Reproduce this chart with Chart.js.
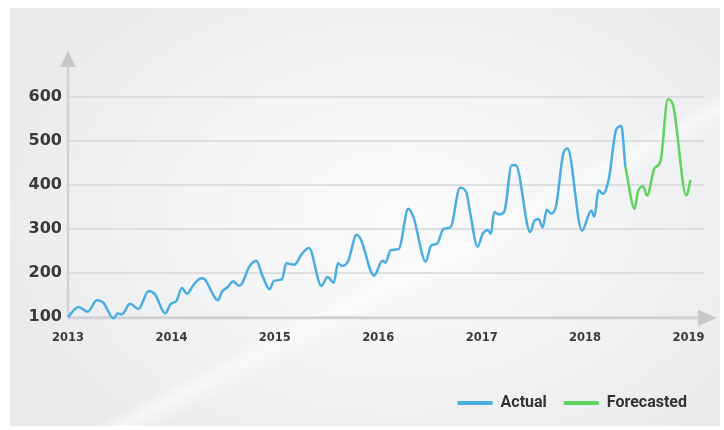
<!DOCTYPE html>
<html>
<head>
<meta charset="utf-8">
<script src="https://cdn.jsdelivr.net/npm/chart.js@4"></script>
<style>
  html, body { margin: 0; padding: 0; background: #ffffff; }
  #wrap { position: relative; width: 724px; height: 430px; }
  #panel {
    position: absolute; left: 10px; top: 8px; width: 710px; height: 418px;
    background:
      linear-gradient(152deg, rgba(255,255,255,0) 58%, rgba(255,255,255,0.55) 60%, rgba(255,255,255,0) 63%),
      radial-gradient(ellipse 60% 70% at 55% 50%, #fbfbfc 0%, #f3f4f5 50%, #e8eaec 100%);
  }
  canvas { position: absolute; left: 0; top: 0; }
</style>
</head>
<body>
<div id="wrap">
  <div id="panel"></div>
  <canvas id="chart" width="724" height="430"></canvas>
</div>
<script>
// time in decimal years, values
const actualTime = [
  2013.00, 2013.10, 2013.19, 2013.28, 2013.34, 2013.44, 2013.48, 2013.52, 2013.60, 2013.68,
  2013.78, 2013.84, 2013.94, 2013.99, 2014.05, 2014.10, 2014.15, 2014.22, 2014.29, 2014.32,
  2014.45, 2014.49, 2014.54, 2014.60, 2014.65, 2014.68, 2014.75, 2014.82, 2014.88, 2014.95,
  2014.99, 2015.07, 2015.11, 2015.19, 2015.26, 2015.33, 2015.45, 2015.51, 2015.57, 2015.61,
  2015.65, 2015.71, 2015.79, 2015.83, 2015.96, 2016.04, 2016.07, 2016.12, 2016.20, 2016.29,
  2016.34, 2016.46, 2016.51, 2016.57, 2016.63, 2016.70, 2016.79, 2016.85, 2016.89, 2016.96,
  2017.01, 2017.06, 2017.09, 2017.12, 2017.17, 2017.22, 2017.29, 2017.33, 2017.47, 2017.51,
  2017.55, 2017.59, 2017.63, 2017.67, 2017.72, 2017.79, 2017.83, 2017.97, 2018.06, 2018.09,
  2018.13, 2018.17, 2018.23, 2018.30, 2018.35, 2018.39
];
const actualValues = [
  100, 123, 112, 138, 133, 97, 108, 106, 130, 118,
  159, 152, 108, 129, 137, 166, 153, 175, 188, 186,
  138, 158, 167, 181, 171, 175, 213, 228, 194, 163,
  182, 186, 222, 219, 243, 257, 171, 191, 178, 222,
  216, 228, 287, 277, 194, 228, 224, 252, 255, 346,
  327, 226, 262, 267, 300, 304, 394, 384, 335, 260,
  289, 298, 289, 338, 333, 340, 445, 445, 293, 319,
  323, 304, 344, 335, 353, 472, 483, 296, 342, 328,
  388, 380, 414, 525, 534, 441
];
const forecastTime = [
  2018.39, 2018.48, 2018.51, 2018.56, 2018.60, 2018.67, 2018.73, 2018.80, 2018.85, 2018.98, 2019.02
];
const forecastValues = [
  441, 346, 384, 397, 376, 437, 455, 595, 582, 376, 412
];
const yearTicks = [2013, 2014, 2015, 2016, 2017, 2018, 2019];
const valueTicks = [100, 200, 300, 400, 500, 600];

const toPoints = (xs, ys) => xs.map((x, i) => ({ x: x, y: ys[i] }));

// axis lines with arrow heads, drawn under the data lines
const axisArrows = {
  id: "axisArrows",
  beforeDatasetsDraw(chart) {
    const { ctx, chartArea } = chart;
    const left = chartArea.left, bottom = chartArea.bottom + 1;
    ctx.save();
    ctx.strokeStyle = "#cfd1d3";
    ctx.fillStyle = "#c6c8ca";
    ctx.lineWidth = 2.5;
    ctx.beginPath();
    ctx.moveTo(left, bottom);
    ctx.lineTo(left, chartArea.top - 2);
    ctx.moveTo(left, bottom);
    ctx.lineTo(chartArea.right - 5, bottom);
    ctx.stroke();
    ctx.beginPath();
    ctx.moveTo(left, chartArea.top - 17);
    ctx.lineTo(left + 8, chartArea.top - 1);
    ctx.lineTo(left - 8, chartArea.top - 1);
    ctx.closePath();
    ctx.fill();
    ctx.beginPath();
    ctx.moveTo(chartArea.right + 13, bottom);
    ctx.lineTo(chartArea.right - 6, bottom - 8);
    ctx.lineTo(chartArea.right - 6, bottom + 8);
    ctx.closePath();
    ctx.fill();
    ctx.restore();
  }
};

new Chart(document.getElementById("chart"), {
  type: "line",
  data: {
    datasets: [
      {
        label: "Actual",
        data: toPoints(actualTime, actualValues),
        borderColor: "#4badE2",
        backgroundColor: "#4badE2",
        borderWidth: 2.5,
        pointRadius: 0,
        cubicInterpolationMode: "monotone"
      },
      {
        label: "Forecasted",
        data: toPoints(forecastTime, forecastValues),
        borderColor: "#5fd45c",
        backgroundColor: "#5fd45c",
        borderWidth: 2.5,
        pointRadius: 0,
        cubicInterpolationMode: "monotone"
      }
    ]
  },
  options: {
    responsive: false,
    animation: false,
    clip: false,
    layout: { padding: { left: 28, right: 20, top: 68, bottom: 9 } },
    plugins: {
      tooltip: { enabled: false },
      legend: {
        position: "bottom",
        align: "end",
        labels: {
          boxWidth: 35,
          boxHeight: 4,
          padding: 17,
          color: "#333333",
          font: { family: "Roboto", size: 16, weight: "bold" },
          generateLabels(chart) {
            return chart.data.datasets.map((ds, i) => ({
              text: ds.label,
              fillStyle: ds.borderColor,
              strokeStyle: ds.borderColor,
              lineWidth: 0,
              fontColor: "#333333",
              datasetIndex: i
            }));
          }
        }
      }
    },
    scales: {
      x: {
        type: "linear",
        min: 2013,
        max: 2019.15,
        afterBuildTicks: scale => { scale.ticks = yearTicks.map(v => ({ value: v })); },
        afterFit: scale => { scale.height = 61; },
        grid: { display: false, drawTicks: false },
        border: { display: false },
        ticks: {
          padding: 14,
          color: "#3a3a3a",
          font: { family: "DejaVu Sans", size: 11.5, weight: "bold" },
          callback: v => String(v)
        }
      },
      y: {
        min: 100,
        max: 666,
        afterBuildTicks: scale => { scale.ticks = valueTicks.map(v => ({ value: v })); },
        afterFit: scale => { scale.width = 40; },
        grid: { color: "#dcdedf", lineWidth: 2, drawTicks: false },
        border: { display: false },
        ticks: {
          padding: 6,
          color: "#3a3a3a",
          font: { family: "DejaVu Sans", size: 16, weight: "bold" }
        }
      }
    }
  },
  plugins: [axisArrows]
});
</script>
</body>
</html>
